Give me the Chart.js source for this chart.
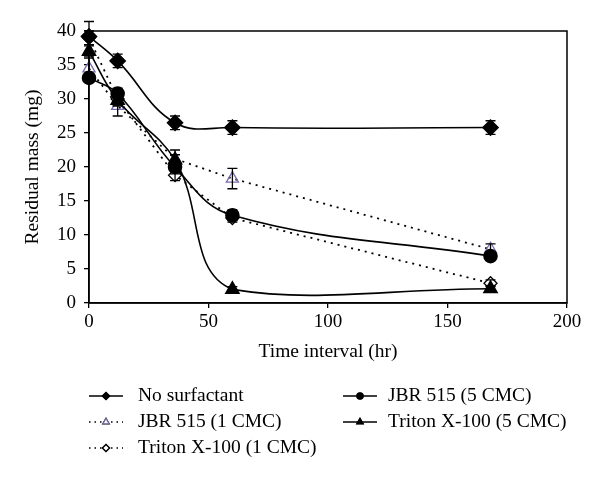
<!DOCTYPE html>
<html>
<head>
<meta charset="utf-8">
<script src="https://cdn.jsdelivr.net/npm/chart.js"></script>
<style>
  html, body { margin: 0; padding: 0; background: #fff; }
  #wrap { width: 600px; height: 479px; }
</style>
</head>
<body>
<div id="wrap"><canvas id="chart" width="600" height="479"></canvas></div>
<script>
// sampling times (hr)
const hours = [0, 12, 36, 60, 168];

// residual mass (mg) per treatment, with error bar half-widths
const noSurfactant = [39.2, 35.6, 26.5, 25.8, 25.8];
const noSurfactantErr = [2.2, 1.0, 1.0, 1.0, 1.0];
const jbr5 = [33.1, 30.8, 20.0, 12.9, 6.9];
const jbr5Err = [0.6, 0.8, 1.0, 0.8, 0.6];
const jbr1 = [34.5, 29.0, 21.2, 18.3, 7.9];
const jbr1Err = [1.5, 1.5, 1.3, 1.5, 0.8];
const triton5 = [37.0, 29.8, 21.0, 2.0, 2.1];
const triton5Err = [0.8, 0.8, 0.8, 0.4, 0.4];
const triton1 = [39.0, 30.0, 18.8, 12.5, 2.9];
const triton1Err = [1.0, 1.0, 0.8, 0.6, 0.5];

const xTicks = [0, 50, 100, 150, 200];
const yTicks = [0, 5, 10, 15, 20, 25, 30, 35, 40];

const FONT = "'Liberation Serif', 'Times New Roman', serif";
const PURPLE = "#7a6ca8";

function pts(ys) {
  return hours.map((h, i) => ({ x: h, y: ys[i] }));
}

const datasets = [
  {
    label: "No surfactant", data: pts(noSurfactant), err: noSurfactantErr,
    borderColor: "#000", backgroundColor: "#000", borderWidth: 1.6,
    pointStyle: "rectRot", pointRadius: 7.5, tension: 0.4, clip: false,
    legendRadius: 3.5
  },
  {
    label: "JBR 515 (5 CMC)", data: pts(jbr5), err: jbr5Err,
    borderColor: "#000", backgroundColor: "#000", borderWidth: 1.6,
    pointStyle: "circle", pointRadius: 6.5, tension: 0.4, clip: false,
    legendRadius: 3
  },
  {
    label: "Triton X-100 (5 CMC)", data: pts(triton5), err: triton5Err,
    borderColor: "#000", backgroundColor: "#000", borderWidth: 1.6,
    pointStyle: "triangle", pointRadius: 7.5, tension: 0.4, clip: false,
    legendRadius: 3.5
  },
  {
    label: "Triton X-100 (1 CMC)", data: pts(triton1), err: triton1Err,
    borderColor: "#000", backgroundColor: "#fff", borderWidth: 1.8,
    borderDash: [2, 5], pointStyle: "rectRot", pointRadius: 6.5,
    pointBorderWidth: 1.3, tension: 0, clip: false,
    legendRadius: 3.5
  },
  {
    label: "JBR 515 (1 CMC)", data: pts(jbr1), err: jbr1Err,
    borderColor: "#000", backgroundColor: "rgba(255,255,255,0)", borderWidth: 1.8,
    borderDash: [2, 5], pointStyle: "triangle", pointRadius: 7,
    pointBorderColor: PURPLE, pointBorderWidth: 1.3, tension: 0, clip: false,
    legendRadius: 3.5, legendColor: PURPLE
  }
];

// legend layout: two columns, entries listed by column
const legendCols = [
  ["No surfactant", "JBR 515 (1 CMC)", "Triton X-100 (1 CMC)"],
  ["JBR 515 (5 CMC)", "Triton X-100 (5 CMC)"]
];

const errorBars = {
  id: "errorBars",
  afterDatasetsDraw(chart) {
    const { ctx, scales: { x, y } } = chart;
    ctx.save();
    ctx.strokeStyle = "#000";
    ctx.lineWidth = 1.3;
    chart.data.datasets.forEach((ds) => {
      ds.data.forEach((p, i) => {
        const e = ds.err[i];
        const px = x.getPixelForValue(p.x);
        const top = y.getPixelForValue(p.y + e);
        const bot = y.getPixelForValue(p.y - e);
        ctx.beginPath();
        ctx.moveTo(px, top); ctx.lineTo(px, bot);
        ctx.moveTo(px - 5, top); ctx.lineTo(px + 5, top);
        ctx.moveTo(px - 5, bot); ctx.lineTo(px + 5, bot);
        ctx.stroke();
      });
    });
    ctx.restore();
  }
};

const frameAndLegend = {
  id: "frameAndLegend",
  afterDraw(chart) {
    const { ctx, chartArea: a } = chart;
    ctx.save();
    ctx.strokeStyle = "#000";
    ctx.lineWidth = 1.5;
    ctx.strokeRect(a.left, a.top, a.right - a.left, a.bottom - a.top);

    const colX = [89, 343];
    const textX = [138, 388];
    const rowY = [396, 422, 448];
    ctx.font = "19.5px " + FONT;
    ctx.textBaseline = "middle";
    ctx.fillStyle = "#000";
    legendCols.forEach((col, c) => {
      col.forEach((label, r) => {
        const ds = chart.data.datasets.find(d => d.label === label);
        const y0 = rowY[r];
        ctx.save();
        ctx.strokeStyle = "#000";
        ctx.lineWidth = ds.borderDash ? 1.3 : 1.5;
        ctx.setLineDash(ds.borderDash ? [1.5, 4] : []);
        ctx.beginPath();
        ctx.moveTo(colX[c], y0);
        ctx.lineTo(colX[c] + 34, y0);
        ctx.stroke();
        ctx.restore();
        Chart.helpers.drawPoint(ctx, {
          pointStyle: ds.pointStyle,
          radius: ds.legendRadius,
          rotation: 0,
          borderWidth: 1.2
        }, colX[c] + 17, y0);
        ctx.save();
        ctx.fillStyle = ds.legendColor ? "rgba(255,255,255,1)" : ds.backgroundColor;
        ctx.strokeStyle = ds.legendColor || "#000";
        ctx.lineWidth = 1.2;
        ctx.fill();
        ctx.stroke();
        ctx.restore();
        ctx.fillText(label, textX[c], y0);
      });
    });
    ctx.restore();
  }
};

new Chart(document.getElementById("chart"), {
  type: "line",
  data: { datasets },
  options: {
    responsive: false,
    animation: false,
    layout: { padding: { left: 0, right: 33, top: 31, bottom: 115 } },
    plugins: { legend: { display: false }, tooltip: { enabled: false } },
    elements: { point: { hoverRadius: 7 } },
    scales: {
      x: {
        type: "linear", min: 0, max: 200,
        afterBuildTicks: s => { s.ticks = xTicks.map(v => ({ value: v })); },
        afterFit: s => { s.height = 61; },
        grid: { drawOnChartArea: false, drawTicks: true, tickLength: 5, color: "#000", lineWidth: 1.3 },
        border: { display: true, color: "#000", width: 1.5 },
        ticks: { color: "#000", font: { family: FONT, size: 19 }, padding: 3, maxRotation: 0 },
        title: { display: true, text: "Time interval (hr)", color: "#000",
                 font: { family: FONT, size: 19.5 }, padding: { top: 0, bottom: 0 } }
      },
      y: {
        type: "linear", min: 0, max: 40,
        afterBuildTicks: s => { s.ticks = yTicks.map(v => ({ value: v })); },
        afterFit: s => { s.width = 89; },
        grid: { drawOnChartArea: false, drawTicks: true, tickLength: 5, color: "#000", lineWidth: 1.3 },
        border: { display: true, color: "#000", width: 1.5 },
        ticks: { color: "#000", font: { family: FONT, size: 19 }, padding: 8 },
        title: { display: true, text: "Residual mass (mg)", color: "#000",
                 font: { family: FONT, size: 19.5 }, padding: { top: 21, bottom: 0 } }
      }
    }
  },
  plugins: [errorBars, frameAndLegend]
});
</script>
</body>
</html>
